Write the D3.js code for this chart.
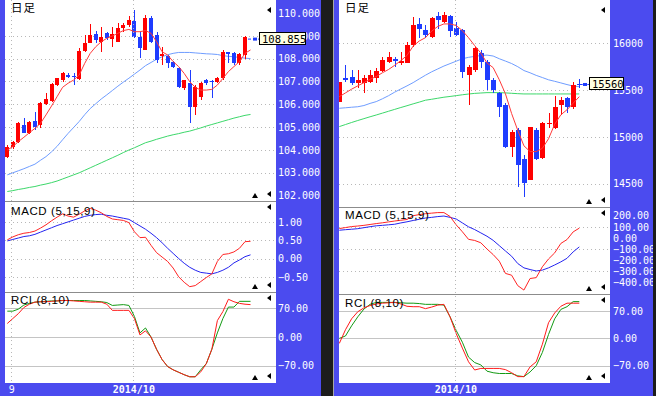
<!DOCTYPE html>
<html>
<head>
<meta charset="utf-8">
<script src="https://cdnjs.cloudflare.com/ajax/libs/d3/7.8.5/d3.min.js"></script>
<style>
  html, body { margin: 0; padding: 0; background: #1c1c1c; }
  svg { display: block; }
</style>
</head>
<body>
<script>
// ---- USD/JPY daily (left) ----
// [open, high, low, close]
const usdCandles = [
  [103.70,104.21,103.63,104.14],[104.11,104.40,104.05,104.36],[104.36,105.23,104.28,105.16],[105.09,105.38,104.72,104.75],
  [104.75,105.28,104.70,105.23],[105.28,105.67,104.87,105.01],[105.09,106.11,104.94,106.04],[106.01,106.48,105.96,106.21],
  [106.14,106.92,106.10,106.87],[106.84,107.16,106.80,107.13],[107.06,107.43,106.99,107.38],[107.28,107.38,107.13,107.21],
  [107.24,107.35,106.84,107.18],[107.11,108.45,107.06,108.35],[108.33,109.04,108.30,108.70],[108.70,109.52,108.67,109.04],
  [109.08,109.23,108.67,108.82],[108.74,109.40,108.30,108.96],[109.11,109.18,108.82,108.89],[108.86,109.40,108.52,109.06],
  [108.74,109.55,108.74,109.33],[109.33,109.55,109.18,109.47],[109.47,109.87,109.40,109.69],[109.66,110.13,108.89,108.96],
  [108.96,109.18,108.01,108.45],[108.38,109.90,108.38,109.77],[109.80,109.87,108.67,108.74],[109.04,109.18,107.79,107.94],
  [108.11,108.52,107.72,108.20],[108.11,108.16,107.57,107.79],[107.87,107.90,107.60,107.65],[107.57,107.65,106.70,106.77],
  [106.70,107.06,106.62,107.06],[106.92,107.50,105.16,105.89],[105.89,106.84,105.53,106.77],[106.33,106.99,106.18,106.94],
  [107.06,107.09,106.84,106.94],[107.00,107.06,106.26,106.98],[106.99,107.21,106.92,107.13],[107.13,108.38,107.06,108.30],
  [108.28,108.30,107.79,108.20],[108.26,108.30,107.72,107.79],[107.79,108.23,107.72,108.20],[108.16,108.99,107.97,108.93]
];
const usdMaShort = [103.99,104.14,104.36,104.55,104.75,104.94,105.16,105.53,105.92,106.33,106.74,106.92,107.06,107.28,107.79,
  108.23,108.52,108.74,108.89,108.99,109.11,109.23,109.28,109.18,109.18,109.23,109.11,108.74,108.30,108.16,107.87,107.65,107.35,
  106.99,106.74,106.62,106.62,106.65,106.84,107.13,107.43,107.65,107.87,108.23,108.38];
const usdMaMid = [102.90,102.99,103.08,103.17,103.27,103.37,103.54,103.70,103.91,104.15,104.44,104.72,104.98,105.24,105.54,
  105.81,106.02,106.23,106.41,106.60,106.79,106.97,107.14,107.32,107.50,107.69,107.83,107.97,108.08,108.17,108.23,108.27,108.27,
  108.27,108.25,108.23,108.21,108.20,108.18,108.13,108.10,108.08,108.05,108.02,108.00];
const usdMaLong = [102.17,102.21,102.26,102.30,102.35,102.39,102.45,102.50,102.56,102.63,102.72,102.81,102.90,102.99,103.10,
  103.21,103.32,103.43,103.54,103.65,103.76,103.88,103.99,104.09,104.20,104.31,104.38,104.46,104.53,104.60,104.66,104.71,104.77,
  104.82,104.89,104.96,105.04,105.11,105.18,105.25,105.32,105.39,105.45,105.51,105.55];
const usdMacd = [0.51,0.59,0.65,0.69,0.71,0.75,0.83,0.92,1.03,1.13,1.22,1.16,1.13,1.21,1.30,1.37,1.32,1.25,1.15,1.08,1.06,1.04,
  0.98,0.73,0.57,0.58,0.36,0.16,0.04,-0.08,-0.26,-0.50,-0.65,-0.77,-0.74,-0.63,-0.52,-0.42,-0.08,0.11,0.13,0.18,0.28,0.46,0.47];
const usdSignal = [0.48,0.52,0.56,0.60,0.62,0.66,0.72,0.78,0.84,0.90,0.95,1.00,1.05,1.10,1.15,1.18,1.20,1.21,1.18,1.16,1.13,1.10,
  1.07,0.98,0.89,0.80,0.69,0.57,0.43,0.28,0.14,0.00,-0.13,-0.24,-0.32,-0.38,-0.40,-0.42,-0.38,-0.32,-0.24,-0.12,-0.04,0.05,0.10];
const usdRciShort = [33,45,57,72,80,85,86,86,87,88,89,89,88,87,86,85,85,85,80,65,65,65,65,45,5,15,0,-30,-55,-72,-80,-86,-92,
  -97,-97,-85,-65,-30,40,62,92,86,82,80,79];
const usdRciLong = [63,63,68,78,82,85,86,87,88,88,89,89,89,89,89,88,87,86,84,77,78,79,77,50,10,22,0,-30,-55,-72,-80,-86,-92,
  -97,-97,-80,-65,-30,10,45,73,73,87,87,87];
const usdMonthIdx = [0.72, 22.8];
const usdMonthLabels = ["9", "2014/10"];
const usdPriceTicks = [102, 103, 104, 105, 106, 107, 108, 109, 110];
const usdMacdTicks = [1, 0.5, 0, -0.5];
const usdLast = 108.855;

// ---- Nikkei 225 daily (right) ----
const nkCandles = [
  [15377,15590,15377,15590],[15626,15768,15590,15608],[15637,15715,15555,15573],[15573,15715,15519,15608],
  [15580,15662,15466,15626],[15590,15715,15573,15662],[15626,15733,15573,15708],[15704,15858,15697,15822],
  [15804,15911,15786,15858],[15836,15858,15751,15815],[15786,15911,15769,15815],[15793,16018,15786,15982],
  [15982,16285,15964,16196],[16207,16267,16053,16150],[16142,16196,16053,16089],[16071,16285,16053,16267],
  [16296,16338,16150,16249],[16231,16338,16221,16303],[16292,16303,16064,16135],[16160,16231,16078,16089],
  [16142,16150,15626,15697],[15662,15769,15341,15751],[15715,15964,15697,15947],[15893,15929,15733,15804],
  [15804,15822,15501,15608],[15608,15626,15466,15501],[15466,15484,15217,15323],[15341,15359,14878,14896],
  [14896,15074,14789,15056],[15074,15092,14469,14700],[14761,14807,14362,14511],[14540,15110,14540,15103],
  [15074,15092,14754,14761],[14772,15163,14761,15145],[15145,15252,15092,15152],[15092,15437,15081,15323],
  [15341,15430,15234,15395],[15412,15430,15252,15323],[15323,15590,15295,15555],[15562,15620,15520,15560]
];
const nkMaShort = [15430,15470,15510,15545,15580,15615,15645,15685,15720,15765,15815,15870,15970,16025,16060,16130,16180,16207,
  16207,16190,16135,16060,15975,15895,15790,15740,15610,15460,15250,15070,14905,14843,14843,14878,14980,15135,15236,15290,15360,15430];
const nkMaMid = [15306,15311,15317,15322,15335,15358,15377,15407,15440,15478,15512,15545,15580,15620,15659,15695,15726,15757,
  15783,15809,15835,15850,15860,15869,15874,15864,15835,15810,15784,15750,15709,15685,15657,15634,15610,15594,15577,15559,15543,15537];
const nkMaLong = [15110,15132,15154,15175,15195,15215,15234,15254,15274,15294,15314,15333,15353,15372,15392,15402,15413,15424,
  15432,15441,15450,15458,15465,15469,15473,15473,15473,15470,15466,15462,15459,15459,15459,15459,15459,15459,15459,15459,15459,15459];
const nkMacd = [84,93,102,107,113,121,129,136,144,152,159,166,200,210,218,223,228,228,193,117,55,-13,-23,-44,-100,-150,-210,
  -320,-336,-430,-470,-366,-358,-260,-190,-135,-50,-15,54,88];
const nkSignal = [69,74,78,83,92,101,109,113,118,123,135,145,157,168,179,185,192,197,185,170,135,100,75,45,15,-22,-70,-118,
  -165,-231,-270,-285,-298,-290,-270,-244,-216,-184,-126,-81];
const nkRciShort = [-13,22,50,68,78,84,88,90,91,92,88,82,81,81,76,80,85,87,55,12,-25,-60,-81,-77,-77,-77,-77,-80,-88,-98,-98,
  -73,-60,-15,40,65,82,90,90,90];
const nkRciLong = [0,6,32,55,75,87,92,92,92,92,91,90,90,89,87,87,87,85,55,20,-10,-48,-62,-68,-84,-88,-90,-90,-90,-96,-98,-86,
  -70,-36,10,50,74,81,94,94];
const nkMonthIdx = [18.86];
const nkMonthLabels = ["2014/10"];
const nkPriceTicks = [14500, 15000, 15500, 16000];
const nkMacdTicks = [200, 100, 0, -100, -200, -300, -400];
const nkLast = 15560;

const rciTicks = [70, 0, -70];

const W = 656, H = 396;
const BAND = "#4b4bef";
const RED = "#ff0000", CBLUE = "#1e3cff";
const MONO = "'DejaVu Sans Mono', monospace";
const SANS = "'Liberation Sans', Arial, sans-serif";

const svg = d3.select("body").append("svg").attr("width", W).attr("height", H);
svg.append("rect").attr("width", W).attr("height", H).attr("fill", "#1c1c1c");

function drawChart(lay, d) {
  const g = svg.append("g");
  const top = lay.panes[0], bottom = lay.panes[3];

  g.append("rect").attr("x", lay.x0).attr("y", 0).attr("width", lay.x1 - lay.x0).attr("height", H).attr("fill", BAND);
  g.append("rect").attr("x", lay.plotL).attr("y", top).attr("width", lay.plotR - lay.plotL)
    .attr("height", bottom - top).attr("fill", "#fff");

  const x = d3.scaleLinear().domain([0, d.candles.length - 1]).range(lay.xr);
  const yP = d3.scaleLinear().domain(d.priceDom).range(lay.priceRange);
  const yM = d3.scaleLinear().domain(d.macdDom).range(lay.macdRange);
  const yR = d3.scaleLinear().domain([-70, 70]).range(lay.rciRange);

  // clip paths per pane
  const clips = [0, 1, 2].map(k => {
    const id = "clip" + lay.id + k;
    svg.append("clipPath").attr("id", id).append("rect")
      .attr("x", lay.plotL).attr("y", lay.panes[k]).attr("width", lay.plotR - lay.plotL)
      .attr("height", lay.panes[k + 1] - lay.panes[k]);
    return g.append("g").attr("clip-path", `url(#${id})`);
  });
  // clip for the label band
  svg.append("clipPath").attr("id", "band" + lay.id).append("rect")
    .attr("x", lay.x0).attr("y", 0).attr("width", lay.x1 - lay.x0).attr("height", H);
  const band = g.append("g").attr("clip-path", `url(#band${lay.id})`);

  // horizontal grid
  const hgrid = (pg, ticks, y, dotted) => pg.selectAll(null).data(ticks).join("line")
    .attr("x1", lay.plotL).attr("x2", lay.plotR)
    .attr("y1", t => Math.round(y(t)) + 0.5).attr("y2", t => Math.round(y(t)) + 0.5)
    .attr("stroke", dotted ? "#b8b8b8" : "#c4c4c4")
    .attr("stroke-dasharray", dotted ? "1,3" : null)
    .attr("shape-rendering", "crispEdges");
  hgrid(clips[0], d.priceGrid, yP, true);
  hgrid(clips[1], d.macdGrid, yM, true);
  hgrid(clips[2], rciTicks, yR, false);

  // month lines
  g.selectAll(null).data(d.monthIdx).join("line")
    .attr("x1", i => Math.round(x(i)) + 0.5).attr("x2", i => Math.round(x(i)) + 0.5)
    .attr("y1", top).attr("y2", bottom)
    .attr("stroke", "#b8b8b8").attr("stroke-dasharray", "1,3").attr("shape-rendering", "crispEdges");

  // pane separators
  g.selectAll(null).data([lay.panes[1], lay.panes[2]]).join("line")
    .attr("x1", lay.plotL).attr("x2", lay.plotR)
    .attr("y1", v => v + 0.5).attr("y2", v => v + 0.5)
    .attr("stroke", "#8c8c8c").attr("shape-rendering", "crispEdges");

  const line = y => d3.line().x((v, i) => x(i)).y(v => y(v));

  // moving averages
  const pg = clips[0];
  pg.append("path").datum(d.maLong).attr("d", line(yP)).attr("fill", "none").attr("stroke", "#3cd86a").attr("stroke-width", 1);
  pg.append("path").datum(d.maMid).attr("d", line(yP)).attr("fill", "none").attr("stroke", "#6f9dff").attr("stroke-width", 1);

  // candles
  const cg = pg.selectAll("g.candle").data(d.candles).join("g").attr("class", "candle");
  const col = c => c[3] > c[0] ? RED : CBLUE;
  cg.append("line")
    .attr("x1", (c, i) => Math.round(x(i)) + 0.5).attr("x2", (c, i) => Math.round(x(i)) + 0.5)
    .attr("y1", c => yP(c[1])).attr("y2", c => yP(c[2]))
    .attr("stroke", col).attr("shape-rendering", "crispEdges");
  cg.append("rect")
    .attr("x", (c, i) => Math.round(x(i)) - Math.floor(lay.cw / 2))
    .attr("width", lay.cw)
    .attr("y", c => yP(Math.max(c[0], c[3])))
    .attr("height", c => Math.max(1, Math.abs(yP(c[0]) - yP(c[3]))))
    .attr("fill", col).attr("shape-rendering", "crispEdges");

  pg.append("path").datum(d.maShort).attr("d", line(yP)).attr("fill", "none").attr("stroke", "#ff3a3a").attr("stroke-width", 1);

  // MACD
  clips[1].append("path").datum(d.signal).attr("d", line(yM)).attr("fill", "none").attr("stroke", "#2424f0");
  clips[1].append("path").datum(d.macd).attr("d", line(yM)).attr("fill", "none").attr("stroke", "#ff2424");

  // RCI
  clips[2].append("path").datum(d.rciLong).attr("d", line(yR)).attr("fill", "none").attr("stroke", "#139a13");
  clips[2].append("path").datum(d.rciShort).attr("d", line(yR)).attr("fill", "none").attr("stroke", "#ff1a1a");

  // right axes (white labels on blue band)
  const axisText = (sel) => {
    sel.select(".domain").remove();
    sel.selectAll("text").attr("fill", "#fff").style("font-size", "10px").style("font-family", MONO);
  };
  band.append("g").attr("transform", `translate(${lay.plotR + lay.labelPad},0)`)
    .call(d3.axisRight(yP).tickValues(d.priceTicks).tickSize(0).tickPadding(0).tickFormat(d3.format(d.priceFmt)))
    .call(axisText);
  band.append("g").attr("transform", `translate(${lay.plotR + lay.labelPad},0)`)
    .call(d3.axisRight(yM).tickValues(d.macdTicks).tickSize(0).tickPadding(0).tickFormat(d3.format(".2f")))
    .call(axisText);
  band.append("g").attr("transform", `translate(${lay.plotR + lay.labelPad},0)`)
    .call(d3.axisRight(yR).tickValues(rciTicks).tickSize(0).tickPadding(0).tickFormat(d3.format(".2f")))
    .call(axisText);

  // bottom date axis
  g.append("g").attr("transform", `translate(0,${bottom})`)
    .call(d3.axisBottom(x).tickValues(d.monthIdx).tickSize(0).tickPadding(3)
      .tickFormat((v, i) => d.monthLabels[i]))
    .call(axisText)
    .selectAll("text").style("font-weight", t => d.monthLabels[d.monthIdx.indexOf(t)].length > 2 ? "bold" : "normal");

  // pane titles
  const title = (txt, y, cjk) => g.append("text").attr("x", lay.plotL + 6).attr("y", y).text(txt)
    .attr("fill", "#000")
    .style("font-size", cjk ? "11.5px" : "11.5px")
    .style("letter-spacing", cjk ? "1px" : "0.6px")
    .style("font-family", cjk ? "'Noto Sans CJK JP', sans-serif" : SANS);
  title("日足", 12, true);
  title("MACD (5,15,9)", lay.panes[1] + lay.titleDy[0], false);
  title("RCI (8,10)", lay.panes[2] + lay.titleDy[1], false);

  // small scroll markers
  const leftTri = (cx, cy) => g.append("path").attr("d", `M${cx - 2},${cy} L${cx + 2},${cy - 3} L${cx + 2},${cy + 3} Z`).attr("fill", "#000");
  const upTri = (cx, cy) => g.append("path").attr("d", `M${cx},${cy - 3} L${cx + 3},${cy + 2} L${cx - 3},${cy + 2} Z`).attr("fill", "#000");
  const mx = lay.plotR - 7, ux = lay.plotR - 21;
  [0, 1, 2].forEach(k => {
    leftTri(mx, lay.panes[k] + (k === 0 ? 10 : 6));
    leftTri(mx, lay.panes[k + 1] - 7);
    upTri(ux, lay.panes[k + 1] - 5);
  });

  // current price tag (drawn over the axis label, as in the source)
  const ty = yP(d.last);
  const lastX = x(d.candles.length - 1);
  g.append("line").attr("x1", lastX + 3).attr("x2", lay.tagX).attr("y1", ty).attr("y2", ty)
    .attr("stroke", "#1e3cff").attr("stroke-dasharray", "3,2");
  g.append("rect").attr("x", lay.tagX - 6).attr("y", ty - 1.5).attr("width", 4).attr("height", 3).attr("fill", "#1e3cff");
  g.append("rect").attr("x", lay.tagX + 0.5).attr("y", Math.round(ty) - 6.5).attr("width", lay.tagW).attr("height", 12)
    .attr("fill", "#ffffe4").attr("stroke", "#000");
  g.append("text").attr("x", lay.tagX + 3).attr("y", Math.round(ty) + 3.5).text(d.lastText)
    .attr("fill", "#000").style("font-size", "10.5px").style("font-family", MONO);
}

drawChart({
  id: "L", x0: 0, x1: 321, plotL: 5, plotR: 276, panes: [0, 201, 292, 383],
  xr: [7.3, 245], cw: 4, labelPad: 2,
  priceRange: [195.4, 13], macdRange: [276.8, 221.9], rciRange: [365.7, 308.3],
  titleDy: [13.5, 11.5], tagX: 259, tagW: 46
}, {
  candles: usdCandles, maShort: usdMaShort, maMid: usdMaMid, maLong: usdMaLong,
  macd: usdMacd, signal: usdSignal, rciShort: usdRciShort, rciLong: usdRciLong,
  monthIdx: usdMonthIdx, monthLabels: usdMonthLabels,
  priceDom: [102, 110], macdDom: [-0.5, 1],
  priceTicks: usdPriceTicks, priceGrid: usdPriceTicks.slice(1, -1), priceFmt: ".3f",
  macdTicks: usdMacdTicks, macdGrid: usdMacdTicks,
  last: usdLast, lastText: "108.855"
});

drawChart({
  id: "R", x0: 333, x1: 653, plotL: 339, plotR: 610, panes: [0, 207, 294, 383],
  xr: [339.3, 579.3], cw: 5, labelPad: 3,
  priceRange: [183.7, 43.3], macdRange: [282.3, 215.7], rciRange: [365.7, 311],
  titleDy: [12, 13], tagX: 589, tagW: 34
}, {
  candles: nkCandles, maShort: nkMaShort, maMid: nkMaMid, maLong: nkMaLong,
  macd: nkMacd, signal: nkSignal, rciShort: nkRciShort, rciLong: nkRciLong,
  monthIdx: nkMonthIdx, monthLabels: nkMonthLabels,
  priceDom: [14500, 16000], macdDom: [-400, 200],
  priceTicks: nkPriceTicks, priceGrid: nkPriceTicks, priceFmt: "d",
  macdTicks: nkMacdTicks, macdGrid: [100, -100, -300],
  last: nkLast, lastText: "15560"
});

// light edge line next to the right panel
svg.append("line").attr("x1", 333.5).attr("x2", 333.5).attr("y1", 0).attr("y2", H)
  .attr("stroke", "#a8a8a8");
</script>
</body>
</html>
